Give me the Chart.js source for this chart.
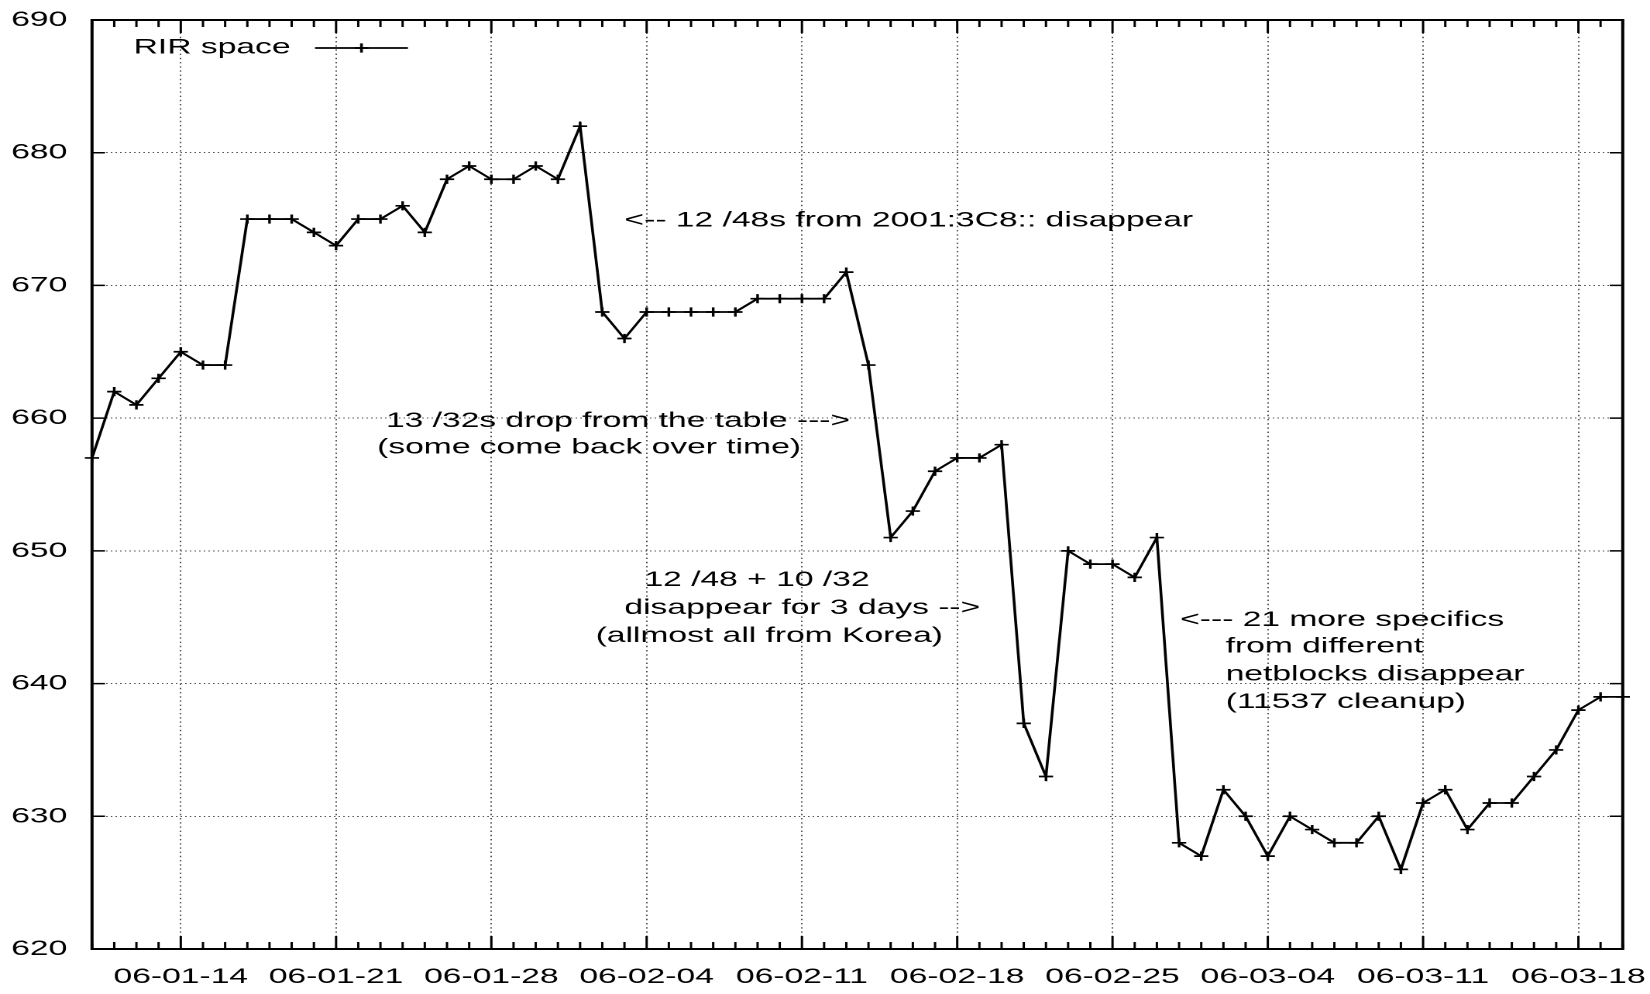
<!DOCTYPE html>
<html>
<head>
<meta charset="utf-8">
<script src="https://cdn.jsdelivr.net/npm/chart.js@4/dist/chart.umd.min.js"></script>
<style>
  html, body { margin: 0; padding: 0; background: #fff; overflow: hidden; }
  /* gnuplot-style plot rendered narrow, then widened horizontally */
  #wrap { position: absolute; left: 0; top: 0; width: 1065px; height: 994px;
          transform-origin: 0 0; transform: scaleX(1.549296); }
</style>
</head>
<body>
<div id="wrap"><canvas id="c" width="1065" height="994"></canvas></div>
<script>
// Daily samples, yy-mm-dd
const days = [
  '06-01-10','06-01-11','06-01-12','06-01-13','06-01-14','06-01-15','06-01-16','06-01-17','06-01-18','06-01-19',
  '06-01-20','06-01-21','06-01-22','06-01-23','06-01-24','06-01-25','06-01-26','06-01-27','06-01-28','06-01-29',
  '06-01-30','06-01-31','06-02-01','06-02-02','06-02-03','06-02-04','06-02-05','06-02-06','06-02-07','06-02-08',
  '06-02-09','06-02-10','06-02-11','06-02-12','06-02-13','06-02-14','06-02-15','06-02-16','06-02-17','06-02-18',
  '06-02-19','06-02-20','06-02-21','06-02-22','06-02-23','06-02-24','06-02-25','06-02-26','06-02-27','06-02-28',
  '06-03-01','06-03-02','06-03-03','06-03-04','06-03-05','06-03-06','06-03-07','06-03-08','06-03-09','06-03-10',
  '06-03-11','06-03-12','06-03-13','06-03-14','06-03-15','06-03-16','06-03-17','06-03-18','06-03-19','06-03-20'
];

// Number of RIR-space prefixes per day
const rirSpace = [
  657, 662, 661, 663, 665, 664, 664, 675, 675, 675,
  674, 673, 675, 675, 676, 674, 678, 679, 678, 678,
  679, 678, 682, 668, 666, 668, 668, 668, 668, 668,
  669, 669, 669, 669, 671, 664, 651, 653, 656, 657,
  657, 658, 637, 633, 650, 649, 649, 648, 651, 628,
  627, 632, 630, 627, 630, 629, 628, 628, 630, 626,
  631, 632, 629, 631, 631, 633, 635, 638, 639, 639
];

// Weekly labelled ticks on the time axis
const tickLabels = ['06-01-14','06-01-21','06-01-28','06-02-04','06-02-11',
                    '06-02-18','06-02-25','06-03-04','06-03-11','06-03-18'];

// Value axis range and step
const yMin = 620, yMax = 690, yStep = 10;

// Text notes, anchored at (day index, value)
const notes = [
  { day: 24.0,  value: 674.9, text: '<-- 12 /48s from 2001:3C8:: disappear' },
  { day: 13.25, value: 659.8, text: '13 /32s drop from the table --->' },
  { day: 12.85, value: 657.8, text: '(some come back over time)' },
  { day: 24.9,  value: 647.8, text: '12 /48 + 10 /32' },
  { day: 24.0,  value: 645.7, text: 'disappear for 3 days -->' },
  { day: 22.7,  value: 643.6, text: '(allmost all from Korea)' },
  { day: 49.05, value: 644.8, text: '<--- 21 more specifics' },
  { day: 51.1,  value: 642.8, text: 'from different' },
  { day: 51.1,  value: 640.7, text: 'netblocks disappear' },
  { day: 51.1,  value: 638.6, text: '(11537 cleanup)' }
];

const FONT = "'Liberation Sans', Arial, Helvetica, sans-serif";
const FONT_SIZE = 21.7;
Chart.defaults.font.family = FONT;
Chart.defaults.font.size = FONT_SIZE;
Chart.defaults.color = '#000';

// Frame, inward tick marks, notes and key drawn on top of the plot
const framePlugin = {
  id: 'gnuFrame',
  afterDraw(chart) {
    const { ctx, chartArea: a, scales: { x, y } } = chart;
    ctx.save();
    ctx.strokeStyle = '#000';
    ctx.lineWidth = 1.5;
    ctx.beginPath();
    days.forEach((d, i) => {
      const px = x.getPixelForValue(i);
      const len = tickLabels.includes(d) ? 13 : 7;
      ctx.moveTo(px, a.bottom); ctx.lineTo(px, a.bottom - len);
      ctx.moveTo(px, a.top);    ctx.lineTo(px, a.top + len);
    });
    y.ticks.forEach(t => {
      const py = y.getPixelForValue(t.value);
      ctx.moveTo(a.left, py);  ctx.lineTo(a.left + 8.4, py);
      ctx.moveTo(a.right, py); ctx.lineTo(a.right - 8.4, py);
    });
    ctx.stroke();

    ctx.lineWidth = 2;
    ctx.strokeRect(a.left, a.top, a.right - a.left, a.bottom - a.top);

    ctx.fillStyle = '#000';
    ctx.font = FONT_SIZE + 'px ' + FONT;
    ctx.textAlign = 'left';
    ctx.textBaseline = 'middle';
    notes.forEach(n => {
      ctx.fillText(n.text, x.getPixelForValue(n.day), y.getPixelForValue(n.value));
    });

    // key: label, then line sample with a marker
    const ds = chart.data.datasets[0];
    ctx.textAlign = 'right';
    ctx.fillText(ds.label, 187.5, 47.5);
    ctx.lineWidth = ds.borderWidth;
    ctx.beginPath();
    ctx.moveTo(203.3, 48); ctx.lineTo(263.3, 48);
    ctx.stroke();
    Chart.helpers.drawPoint(ctx, { pointStyle: 'cross', radius: ds.pointRadius, borderWidth: ds.pointBorderWidth, rotation: 0 }, 233.3, 48);
    ctx.restore();
  }
};

new Chart(document.getElementById('c'), {
  type: 'line',
  data: {
    labels: days,
    datasets: [{
      label: 'RIR space',
      data: rirSpace,
      borderColor: '#000',
      borderWidth: 1.8,
      tension: 0,
      fill: false,
      pointStyle: 'cross',
      pointRadius: 4.6,
      pointBorderWidth: 1.7,
      pointBorderColor: '#000',
      pointBackgroundColor: '#000',
      clip: false
    }]
  },
  options: {
    responsive: false,
    maintainAspectRatio: false,
    animation: false,
    devicePixelRatio: 2,
    events: [],
    layout: { padding: { left: 0, right: 17.6, top: 20, bottom: 0 } },
    plugins: { legend: { display: false }, tooltip: { enabled: false } },
    scales: {
      x: {
        type: 'category',
        offset: false,
        grid: { color: '#555', lineWidth: 1, drawTicks: false },
        border: { display: false, dash: [1.4, 2.8] },
        ticks: { autoSkip: false, maxRotation: 0, padding: 15, color: '#000' },
        afterBuildTicks(scale) {
          scale.ticks = scale.ticks.filter(t => tickLabels.includes(days[t.value]));
        },
        afterFit(scale) {
          scale.height = 45;
          scale.paddingLeft = 0;
          scale.paddingRight = 0;
        }
      },
      y: {
        min: yMin,
        max: yMax,
        grid: { color: '#555', lineWidth: 1, drawTicks: false },
        border: { display: false, dash: [1, 2] },
        ticks: { stepSize: yStep, padding: 16, color: '#000' },
        afterFit(scale) {
          scale.width = 59.4;
          scale.paddingTop = 0;
          scale.paddingBottom = 0;
        }
      }
    }
  },
  plugins: [framePlugin]
});
</script>
</body>
</html>
